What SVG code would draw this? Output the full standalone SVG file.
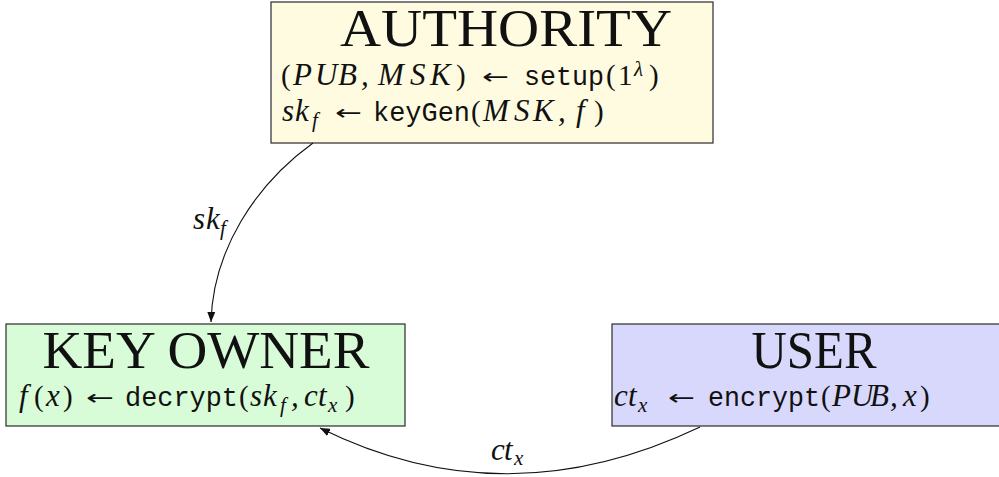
<svg xmlns="http://www.w3.org/2000/svg" width="999" height="477" viewBox="0 0 999 477">
  <style>
    .box { stroke: #2b2b2b; stroke-width: 1.2; }
    .title { font-family: "Liberation Serif", serif; font-size: 53px; fill: #111; }
    .rm { font-family: "Liberation Serif", serif; font-size: 29px; fill: #111; }
    .it { font-family: "Liberation Serif", serif; font-size: 31px; font-style: italic; fill: #111; }
    .up { font-style: normal; font-size: 29px; }
    .tt { font-family: "Liberation Mono", "DejaVu Sans Mono", monospace; font-size: 27px; fill: #111; }
    .sub { font-family: "Liberation Serif", serif; font-size: 21px; font-style: italic; fill: #111; }
    .arr { font-family: "DejaVu Sans", sans-serif; font-size: 21px; fill: #111; }
    .edge { fill: none; stroke: #111; stroke-width: 1.1; }
  </style>
  <defs>
    <marker id="tip" viewBox="0 0 10 8" refX="10" refY="4" markerWidth="10" markerHeight="8" markerUnits="userSpaceOnUse" orient="auto">
      <path d="M0,0 L10,4 L0,8 Z" fill="#111"/>
    </marker>
  </defs>

  <!-- key authority: setup and key generation -->
  <g id="authority">
    <rect class="box" x="271" y="2" width="442" height="141" fill="#fefbe0"/>
    <text class="title" x="506" y="46" text-anchor="middle" textLength="332" lengthAdjust="spacingAndGlyphs">AUTHORITY</text>
    <text class="it" y="85"><tspan class="up" x="281">(</tspan><tspan x="293 315 338 361 367 378 410 430">PUB, MSK</tspan><tspan class="up" x="456">)</tspan></text>
    <text class="arr" x="482" y="84" textLength="27" lengthAdjust="spacingAndGlyphs">←</text>
    <text class="tt" x="524" y="85" textLength="80" lengthAdjust="spacingAndGlyphs">setup</text>
    <text class="rm" x="606 618" y="85">(1</text>
    <text class="sub" x="634" y="76">λ</text>
    <text class="rm" x="649" y="85">)</text>

    <text class="it" x="282 295" y="121">sk</text>
    <text class="sub" x="312" y="127">f</text>
    <text class="arr" x="335" y="120" textLength="27" lengthAdjust="spacingAndGlyphs">←</text>
    <text class="tt" x="373" y="121" textLength="97" lengthAdjust="spacingAndGlyphs">keyGen</text>
    <text class="it" y="121"><tspan class="up" x="471">(</tspan><tspan x="483 514 533 558 563 576">MSK, f</tspan><tspan class="up" x="594">)</tspan></text>
  </g>

  <!-- key owner: decryption -->
  <g id="key-owner">
    <rect class="box" x="6" y="324" width="399" height="102" fill="#d8fbd8"/>
    <text class="title" x="206" y="368" text-anchor="middle" textLength="327" lengthAdjust="spacingAndGlyphs">KEY OWNER</text>
    <text class="it" y="406"><tspan x="19">f</tspan><tspan class="up" x="34">(</tspan><tspan x="46">x</tspan><tspan class="up" x="63">)</tspan></text>
    <text class="arr" x="86" y="405" textLength="28" lengthAdjust="spacingAndGlyphs">←</text>
    <text class="tt" x="125" y="406" textLength="113" lengthAdjust="spacingAndGlyphs">decrypt</text>
    <text class="rm" x="239" y="406">(</text>
    <text class="it" x="250 263" y="406">sk</text>
    <text class="sub" x="280" y="412">f</text>
    <text class="it" x="291" y="406">,</text>
    <text class="it" x="304 318" y="406">ct</text>
    <text class="sub" x="328" y="412">x</text>
    <text class="rm" x="345" y="406">)</text>
  </g>

  <!-- user: encryption -->
  <g id="user">
    <rect class="box" x="612" y="324" width="392" height="102" fill="#d8d8fc"/>
    <text class="title" x="814" y="368" text-anchor="middle" textLength="125" lengthAdjust="spacingAndGlyphs">USER</text>
    <text class="it" x="614 628" y="406">ct</text>
    <text class="sub" x="638" y="412">x</text>
    <text class="arr" x="668" y="405" textLength="27" lengthAdjust="spacingAndGlyphs">←</text>
    <text class="tt" x="708" y="406" textLength="112" lengthAdjust="spacingAndGlyphs">encrypt</text>
    <text class="it" y="406"><tspan class="up" x="821">(</tspan><tspan x="832 851 870 890 895 903">PUB, x</tspan><tspan class="up" x="920">)</tspan></text>
  </g>

  <g id="connectors">
    <path class="edge" d="M313,143 C255,185 213,250 211,322" marker-end="url(#tip)"/>
    <text class="it" x="193 206" y="229">sk</text>
    <text class="sub" x="220" y="235">f</text>
    <path class="edge" d="M700,427 Q505,520 320,428" marker-end="url(#tip)"/>
    <text class="it" x="491 504" y="460">ct</text>
    <text class="sub" x="514" y="465">x</text>
  </g>
</svg>
